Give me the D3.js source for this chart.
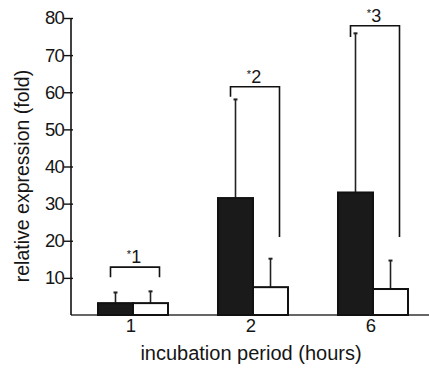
<!DOCTYPE html>
<html><head><meta charset="utf-8">
<script src="https://cdn.jsdelivr.net/npm/d3@7/dist/d3.min.js"></script>
<style>body{margin:0;background:#fff}svg{display:block}</style>
</head><body>
<svg id="c" width="429" height="370"></svg>
<script>
const groups = ["1", "2", "6"];
const blackMeans = [3.2, 31.5, 33];
const blackErrTops = [6.2, 58.2, 76];
const whiteMeans = [3.2, 7.5, 7.0];
const whiteErrTops = [6.5, 15.3, 14.8];
const bracketLabels = ["1", "2", "3"];
const bracketTops = [12.9, 61.5, 77.9];
const bracketLeftEnds = [10.2, 58.8, 74.9];
const bracketRightEnds = [10.2, 21, 21];
const yTicks = [10, 20, 30, 40, 50, 60, 70, 80];

const svg = d3.select("#c");
const font = "'Liberation Sans', Arial, sans-serif";
const ink = "#151515";
const y = d3.scaleLinear().domain([0, 80]).range([315, 18]);
const x0 = d3.scaleBand().domain(groups).range([73, 433]);
const x1 = d3.scaleBand().domain(["black", "white"]).range([0, x0.bandwidth()]).paddingInner(0).paddingOuter(0.714);

// baseline
svg.append("line").attr("x1", 71).attr("x2", 429).attr("y1", y(0)).attr("y2", y(0))
  .attr("stroke", "#666").attr("stroke-width", 2);

// bars
const series = [
  {key: "black", means: blackMeans, errs: blackErrTops, fill: "#1a1a1a"},
  {key: "white", means: whiteMeans, errs: whiteErrTops, fill: "#fff"}
];
series.forEach(s => {
  groups.forEach((g, i) => {
    const bx = x0(g) + x1(s.key), bw = x1.bandwidth();
    const cx = bx + bw / 2;
    svg.append("line").attr("x1", cx).attr("x2", cx).attr("y1", y(s.means[i])).attr("y2", y(s.errs[i]))
      .attr("stroke", "#222").attr("stroke-width", 1.6);
    svg.append("line").attr("x1", cx - 2).attr("x2", cx + 2).attr("y1", y(s.errs[i]) + 0.5).attr("y2", y(s.errs[i]) + 0.5)
      .attr("stroke", "#222").attr("stroke-width", 2);
    svg.append("rect").attr("x", bx).attr("width", bw)
      .attr("y", y(s.means[i])).attr("height", y(0) - y(s.means[i]))
      .attr("fill", s.fill).attr("stroke", "#111").attr("stroke-width", 2);
  });
});

// brackets
groups.forEach((g, i) => {
  const lx = x0(g) + x1("black") + x1.bandwidth() / 2 - 5;
  const rx = x0(g) + x1("white") + x1.bandwidth() / 2 + 9;
  const path = d3.path();
  path.moveTo(lx, y(bracketLeftEnds[i]));
  path.lineTo(lx, y(bracketTops[i]));
  path.lineTo(rx, y(bracketTops[i]));
  path.lineTo(rx, y(bracketRightEnds[i]));
  svg.append("path").attr("d", path.toString()).attr("fill", "none")
    .attr("stroke", "#111").attr("stroke-width", 1.6);
  const t = svg.append("text").attr("x", (lx + rx) / 2 - 1).attr("y", y(bracketTops[i]) - 4)
    .attr("text-anchor", "middle").attr("font-family", font).attr("font-size", 18).attr("fill", ink);
  t.append("tspan").attr("font-size", 11).attr("dy", -5).text("*");
  t.append("tspan").attr("dy", 5).text(bracketLabels[i]);
});

// y axis
const yAxis = d3.axisLeft(y).tickValues(yTicks).tickSize(6).tickPadding(1).tickFormat(d3.format("d"));
const ya = svg.append("g").attr("transform", "translate(71,0)").call(yAxis);
ya.select(".domain").attr("d", `M0,${y(80)}V${y(0)}`).attr("stroke", "#111").attr("stroke-width", 1.6);
ya.selectAll(".tick line").attr("stroke", "#111").attr("stroke-width", 1.4).attr("x2", -7).attr("x1", 2);
ya.selectAll(".tick text").attr("font-family", font).attr("font-size", 18.5).attr("fill", ink)
  .attr("letter-spacing", -0.8).attr("x", -7);

// x axis labels
const xa = svg.append("g").attr("transform", `translate(0,${y(0)})`)
  .call(d3.axisBottom(x0).tickSize(0).tickPadding(4));
xa.select(".domain").remove();
xa.selectAll(".tick text").attr("font-family", font).attr("font-size", 18.5).attr("fill", ink)
  .attr("dx", -2);

// titles
svg.append("text").attr("x", 251).attr("y", 360).attr("text-anchor", "middle")
  .attr("font-family", font).attr("font-size", 20).attr("fill", ink).text("incubation period (hours)");
svg.append("text").attr("transform", "translate(29,176) rotate(-90)").attr("text-anchor", "middle")
  .attr("font-family", font).attr("font-size", 19.5).attr("fill", ink).text("relative expression (fold)");
</script>
</body></html>
